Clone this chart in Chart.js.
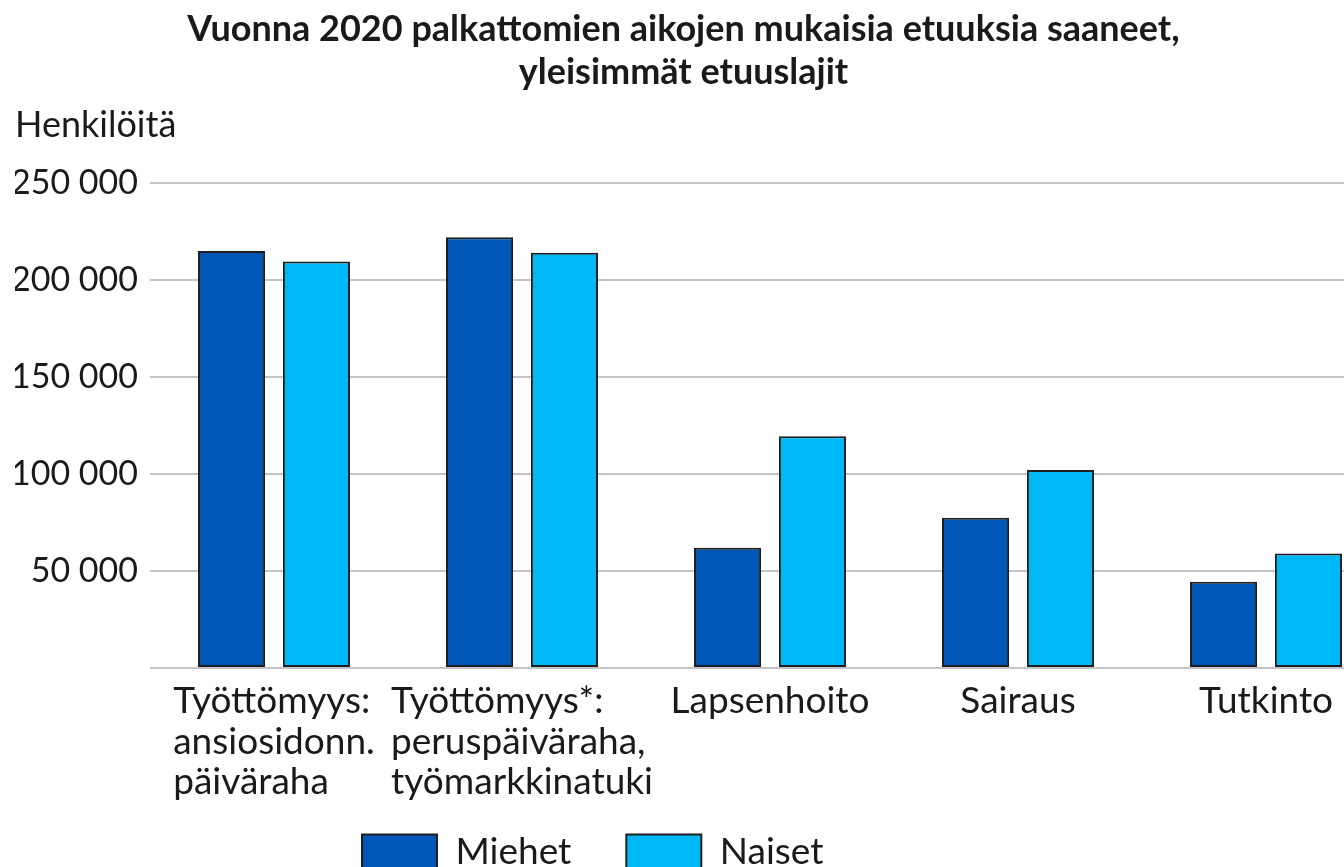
<!DOCTYPE html>
<html>
<head>
<meta charset="utf-8">
<script src="https://cdn.jsdelivr.net/npm/chart.js@4.4.1/dist/chart.umd.min.js"></script>
<style>
  html, body { margin: 0; padding: 0; background: #fff; overflow: hidden; }
  canvas { display: block; }
</style>
</head>
<body>
<canvas id="etuudet" width="1390" height="867"></canvas>
<script>
// kategoriat (rivitetyt nimet) ja sarjat
const categories = [
  ["Työttömyys:", "ansiosidonn.", "päiväraha"],
  ["Työttömyys*:", "peruspäiväraha,", "työmarkkinatuki"],
  ["Lapsenhoito"],
  ["Sairaus"],
  ["Tutkinto"]
];
const miehet = [215000, 222000, 62000, 77500, 44500];
const naiset = [209500, 214000, 119500, 102000, 59000];
const yTicks = [0, 50000, 100000, 150000, 200000, 250000];

const TEXT = "#1a1a1a";
const LEGEND_LEFT = 362;

Chart.defaults.font.family = "Lato";
Chart.defaults.color = TEXT;

function fmt(v) {
  return String(v).replace(/\B(?=(\d{3})+(?!\d))/g, " ");
}

// siirretään otsikko ja selite samaan kohtaan kuin mallissa
const plugin_siirto = {
  id: "siirto",
  afterLayout(chart) {
    const lg = chart.legend;
    const pad = lg.options.labels.padding;
    const start = (lg.left + pad + lg.right - lg.lineWidths[0]) / 2;
    const dx = LEGEND_LEFT - start;
    lg.left += dx;
    lg.right += dx;
    lg.top += 14;
    lg.bottom += 14;
    chart.titleBlock.left -= 19;
    chart.titleBlock.right -= 19;
  }
};

// x-akselin nimet vasemmalle tasattuina lohkoina
const plugin_xnimet = {
  id: "xnimet",
  afterDraw(chart) {
    const { ctx, chartArea } = chart;
    const xs = chart.scales.x;
    ctx.save();
    ctx.font = "37px Lato";
    ctx.fillStyle = TEXT;
    ctx.textAlign = "left";
    ctx.textBaseline = "alphabetic";
    categories.forEach((lines, i) => {
      const w = Math.max(...lines.map((l) => ctx.measureText(l).width));
      const x0 = xs.getPixelForTick(i) - w / 2;
      lines.forEach((l, k) => {
        ctx.fillText(l, x0, chartArea.bottom + 45 + k * 40.5);
      });
    });
    ctx.restore();
  }
};

const ctx = document.getElementById("etuudet").getContext("2d");
new Chart(ctx, {
  type: "bar",
  data: {
    labels: categories,
    datasets: [
      {
        label: "Miehet",
        data: miehet,
        backgroundColor: "#0057b7",
        borderColor: "#1f1f1f",
        borderWidth: 2,
        borderSkipped: false
      },
      {
        label: "Naiset",
        data: naiset,
        backgroundColor: "#00b8f5",
        borderColor: "#1f1f1f",
        borderWidth: 2,
        borderSkipped: false
      }
    ]
  },
  options: {
    responsive: false,
    animation: false,
    layout: { padding: { left: 15, right: 0, top: 0, bottom: 0 } },
    categoryPercentage: 0.685,
    barPercentage: 0.79,
    plugins: {
      title: {
        display: true,
        text: ["Vuonna 2020 palkattomien aikojen mukaisia etuuksia saaneet,", "yleisimmät etuuslajit"],
        font: { size: 36, weight: "bold", lineHeight: 43 / 36 },
        color: TEXT,
        padding: { top: 8, bottom: 10 }
      },
      subtitle: {
        display: true,
        text: "Henkilöitä",
        align: "start",
        font: { size: 36, lineHeight: 40 / 36 },
        color: TEXT,
        padding: { top: 1, bottom: 38 }
      },
      legend: {
        display: true,
        position: "bottom",
        labels: {
          boxWidth: 75,
          boxHeight: 36,
          padding: 55,
          font: { size: 37 },
          color: TEXT
        }
      },
      tooltip: { enabled: false }
    },
    scales: {
      x: {
        grid: { display: false },
        border: { display: false },
        ticks: { display: false },
        afterFit(scale) { scale.height = 97; }
      },
      y: {
        min: 0,
        max: 250000,
        afterBuildTicks(scale) {
          scale.ticks = yTicks.map((v) => ({ value: v }));
        },
        afterFit(scale) { scale.width = 135; },
        grid: { color: "#c4c4c4", lineWidth: 2, drawTicks: false },
        border: { display: false },
        ticks: {
          padding: 12,
          font: { size: 34 },
          color: TEXT,
          callback: (v) => (v === 0 ? "" : fmt(v))
        }
      }
    }
  },
  plugins: [plugin_siirto, plugin_xnimet]
});
</script>
</body>
</html>
